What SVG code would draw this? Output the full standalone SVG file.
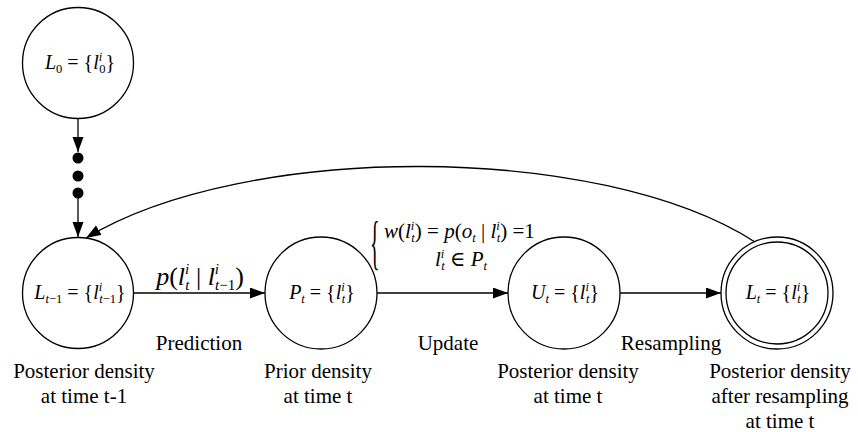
<svg xmlns="http://www.w3.org/2000/svg" width="858" height="432" viewBox="0 0 858 432">
<defs>
<style>
.nd{fill:#fff;stroke:#000;stroke-width:1.3}
.ln{fill:none;stroke:#000;stroke-width:1.3}
.m{font-family:'Liberation Serif','DejaVu Serif','Times New Roman',serif;font-size:20px;fill:#000}
.i{font-style:italic}
.s{font-size:12.5px}
.lb{font-family:'Liberation Serif','DejaVu Serif','Times New Roman',serif;font-size:21px;fill:#000;text-anchor:middle}
</style>
<marker id="ah" markerUnits="userSpaceOnUse" markerWidth="16" markerHeight="12" refX="15" refY="5.5" orient="auto">
<path d="M0,0 L15,5.5 L0,11 z" fill="#000"/>
</marker>
</defs>
<rect width="858" height="432" fill="#fff"/>

<g id="connectors">
<line class="ln" x1="78" y1="119" x2="78" y2="152" marker-end="url(#ah)"/>
<circle cx="78" cy="158" r="5.5" fill="#000"/>
<circle cx="78" cy="176" r="5.5" fill="#000"/>
<circle cx="78" cy="193" r="5.5" fill="#000"/>
<line class="ln" x1="78" y1="193" x2="78" y2="237" marker-end="url(#ah)"/>
<line class="ln" x1="134" y1="293" x2="265" y2="293" marker-end="url(#ah)"/>
<line class="ln" x1="377" y1="293" x2="508" y2="293" marker-end="url(#ah)"/>
<line class="ln" x1="620" y1="293" x2="721" y2="293" marker-end="url(#ah)"/>
<path class="ln" d="M755,242 C600,142 244,142 86,238" marker-end="url(#ah)"/>
</g>

<g id="node-L0">
<circle class="nd" cx="78" cy="63" r="55.5"/>
<text class="m" x="80" y="69" text-anchor="middle"><tspan class="i">L</tspan><tspan class="s" dy="4">0</tspan><tspan dy="-4"> = {</tspan><tspan class="i">l</tspan><tspan class="s i" dy="-8">i</tspan><tspan class="s" dx="-3" dy="12">0</tspan><tspan dy="-4">}</tspan></text>
</g>

<g id="node-Lt1">
<circle class="nd" cx="78" cy="293" r="55.5"/>
<text class="m" x="80" y="299" text-anchor="middle"><tspan class="i">L</tspan><tspan class="s" dy="4"><tspan class="i">t</tspan>−1</tspan><tspan dy="-4"> = {</tspan><tspan class="i">l</tspan><tspan class="s i" dy="-8">i</tspan><tspan class="s" dx="-3" dy="12"><tspan class="i">t</tspan>−1</tspan><tspan dy="-4">}</tspan></text>
</g>

<g id="node-P">
<circle class="nd" cx="321" cy="293" r="56"/>
<text class="m" x="322" y="299" text-anchor="middle"><tspan class="i">P</tspan><tspan class="s i" dy="4">t</tspan><tspan dy="-4"> = {</tspan><tspan class="i">l</tspan><tspan class="s i" dy="-8">i</tspan><tspan class="s i" dx="-3" dy="12">t</tspan><tspan dy="-4">}</tspan></text>
</g>

<g id="node-U">
<circle class="nd" cx="564" cy="293" r="56"/>
<text class="m" x="565" y="299" text-anchor="middle"><tspan class="i">U</tspan><tspan class="s i" dy="4">t</tspan><tspan dy="-4"> = {</tspan><tspan class="i">l</tspan><tspan class="s i" dy="-8">i</tspan><tspan class="s i" dx="-3" dy="12">t</tspan><tspan dy="-4">}</tspan></text>
</g>

<g id="node-Lt">
<circle class="nd" cx="777" cy="293" r="56"/>
<circle class="nd" cx="777" cy="293" r="51"/>
<text class="m" x="778" y="299" text-anchor="middle"><tspan class="i">L</tspan><tspan class="s i" dy="4">t</tspan><tspan dy="-4"> = {</tspan><tspan class="i">l</tspan><tspan class="s i" dy="-8">i</tspan><tspan class="s i" dx="-3" dy="12">t</tspan><tspan dy="-4">}</tspan></text>
</g>

<g id="labels">
<text class="m" x="200" y="285" text-anchor="middle" style="font-size:26px"><tspan class="i">p</tspan>(<tspan class="i">l</tspan><tspan class="i" style="font-size:15px" dy="-11">i</tspan><tspan class="i" style="font-size:15px" dx="-4" dy="16">t</tspan><tspan dy="-5"> | </tspan><tspan class="i">l</tspan><tspan class="i" style="font-size:15px" dy="-11">i</tspan><tspan style="font-size:15px" dx="-4" dy="16"><tspan class="i">t</tspan>−1</tspan><tspan dy="-5">)</tspan></text>

<text class="m" transform="translate(370,262) scale(1,3.0)" style="font-size:20px">{</text>
<text class="m" x="384" y="238" style="font-size:21px"><tspan class="i">w</tspan>(<tspan class="i">l</tspan><tspan class="s i" dy="-8">i</tspan><tspan class="s i" dx="-3" dy="12">t</tspan><tspan dy="-4">) = </tspan><tspan class="i">p</tspan>(<tspan class="i">o</tspan><tspan class="s i" dy="4">t</tspan><tspan dy="-4"> | </tspan><tspan class="i">l</tspan><tspan class="s i" dy="-8">i</tspan><tspan class="s i" dx="-3" dy="12">t</tspan><tspan dy="-4">) =1</tspan></text>
<text class="m" x="461" y="266" text-anchor="middle" style="font-size:21px"><tspan class="i">l</tspan><tspan class="s i" dy="-8">i</tspan><tspan class="s i" dx="-3" dy="12">t</tspan><tspan dy="-4"> ∈ </tspan><tspan class="i">P</tspan><tspan class="s i" dy="4">t</tspan></text>

<text class="lb" x="199" y="350">Prediction</text>
<text class="lb" x="448" y="350">Update</text>
<text class="lb" x="671" y="350">Resampling</text>

<text class="lb" x="84" y="378">Posterior density</text>
<text class="lb" x="84" y="403">at time t-1</text>
<text class="lb" x="318" y="378">Prior density</text>
<text class="lb" x="318" y="403">at time t</text>
<text class="lb" x="568" y="378">Posterior density</text>
<text class="lb" x="568" y="403">at time t</text>
<text class="lb" x="780" y="378">Posterior density</text>
<text class="lb" x="780" y="403">after resampling</text>
<text class="lb" x="780" y="428">at time t</text>
</g>
</svg>
